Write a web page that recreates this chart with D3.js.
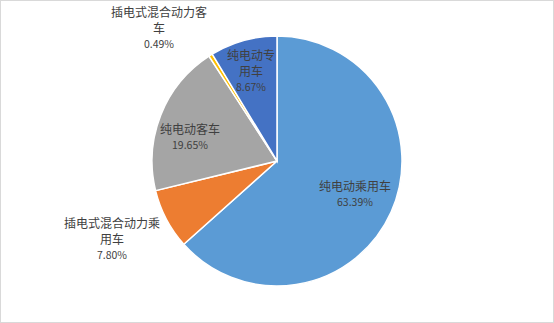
<!DOCTYPE html>
<html>
<head>
<meta charset="utf-8">
<script src="https://cdn.jsdelivr.net/npm/d3@7"></script>
<style>
  body { margin: 0; background: #fff; }
</style>
</head>
<body>
<script>
// chart data
const categories = ["纯电动乘用车", "插电式混合动力乘用车", "纯电动客车", "插电式混合动力客车", "纯电动专用车"];
const shares = [63.39, 7.80, 19.65, 0.49, 8.67];
const colors = ["#5B9BD5", "#ED7D31", "#A5A5A5", "#FFC000", "#4472C4"];

// label lines as wrapped in the picture
const labelLines = [["纯电动乘用车"], ["插电式混合动力乘", "用车"], ["纯电动客车"], ["插电式混合动力客", "车"], ["纯电动专", "用车"]];
// label centres
const labelPos = [[355, 188], [112, 225], [190, 131], [159, 14], [251, 57]];

const W = 554, H = 323;
const cx = 277, cy = 161, R = 125;

let svg = d3.select("body")
  .append("svg")
  .attr("width", W)
  .attr("height", H);

svg.append("rect")
  .attr("x", 0.5).attr("y", 0.5)
  .attr("width", W - 1).attr("height", H - 1)
  .style("fill", "#fff")
  .style("stroke", "#D9D9D9");

let pie = d3.pie().sort(null).value(d => d);
let arc = d3.arc().innerRadius(0).outerRadius(R);
let arcs = pie(shares);

let g = svg.append("g").attr("transform", `translate(${cx},${cy})`);

g.selectAll("path")
  .data(arcs)
  .join("path")
  .attr("d", arc)
  .style("fill", (d, i) => colors[i])
  .style("stroke", "#fff")
  .style("stroke-width", 1.5);

// labels
let font = "'Microsoft YaHei', 'Noto Sans CJK SC', sans-serif";
categories.forEach((c, i) => {
  let [x, y] = labelPos[i];
  let t = svg.append("text")
    .attr("x", x)
    .attr("y", y)
    .attr("text-anchor", "middle")
    .style("font-family", font)
    .style("fill", "#404040");
  labelLines[i].forEach((line, k) => {
    t.append("tspan")
      .attr("x", x)
      .attr("y", y + k * 16)
      .attr("dominant-baseline", "middle")
      .style("font-size", "12px")
      .text(line);
  });
  t.append("tspan")
    .attr("x", x)
    .attr("y", y + labelLines[i].length * 16 - 0.5)
    .attr("dominant-baseline", "middle")
    .style("font-size", "10.5px")
    .text(shares[i].toFixed(2) + "%");
});
</script>
</body>
</html>
